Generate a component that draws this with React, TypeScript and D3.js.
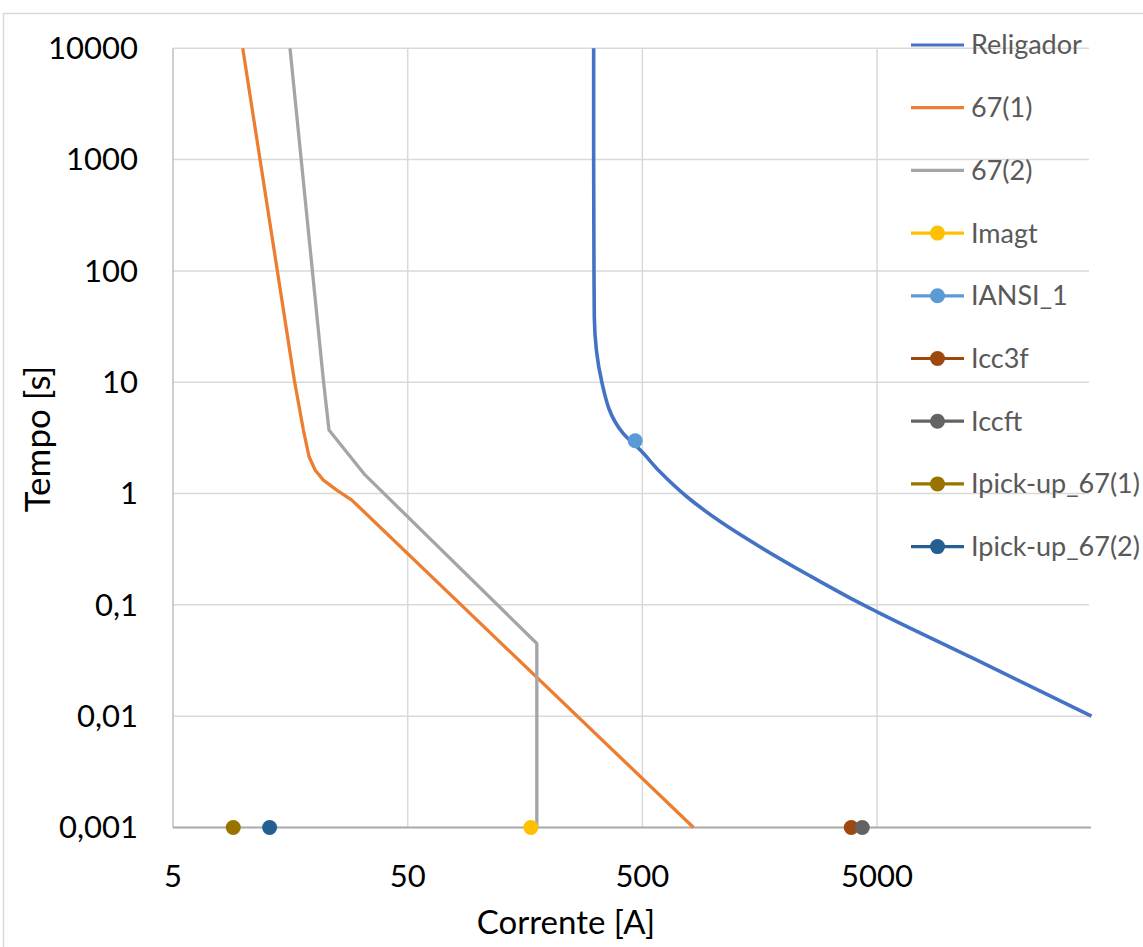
import React from "react";
import * as d3 from "d3";

// Religador curve (corrente [A], tempo [s])
const religadorI = [310, 310, 311, 312, 336, 414, 490, 595.5, 774, 1073, 1589, 2595, 3844, 5000, 13000, 41000];
const religadorT = [10000, 1000, 100, 38.8, 10, 3.47, 2.46, 1.56, 0.936, 0.56, 0.331, 0.1815, 0.1151, 0.0867, 0.0327, 0.01];

// rele 67(1)
const rele1I = [9.91, 16.44, 17.97, 19.0, 20.15, 21.86, 24.93, 28.9, 825.6];
const rele1T = [10000, 10.47, 3.72, 2.14, 1.63, 1.32, 1.075, 0.874, 0.001];

// rele 67(2)
const rele2I = [15.76, 21.86, 23.1, 32.9, 177.5, 177.5];
const rele2T = [10000, 10.47, 3.72, 1.47, 0.045, 0.001];

// single points
const pointNames = ["Imagt", "IANSI_1", "Icc3f", "Iccft", "Ipick-up_67(1)", "Ipick-up_67(2)"];
const pointI = [167.4, 466, 3881, 4325, 9.03, 12.9];
const pointT = [0.001, 2.98, 0.001, 0.001, 0.001, 0.001];
const pointColors = ["#FFC000", "#5B9BD5", "#9E480E", "#636363", "#997300", "#255E91"];

const lineNames = ["Religador", "67(1)", "67(2)"];
const lineColors = ["#4472C4", "#ED7D31", "#A5A5A5"];

const xTicks = [5, 50, 500, 5000];
const yTicks = [10000, 1000, 100, 10, 1, 0.1, 0.01, 0.001];
const yTickLabels = ["10000", "1000", "100", "10", "1", "0,1", "0,01", "0,001"];

const W = 1143;
const H = 947;
const plot = { left: 173, right: 1089, top: 48.3, bottom: 827.5 };
const FONT = "Lato, 'Open Sans', sans-serif";

export default function App() {
  const x = d3.scaleLog().domain([5, 40000]).range([plot.left, plot.right]);
  const y = d3.scaleLog().domain([0.001, 10000]).range([plot.bottom, plot.top]);

  const smooth = d3
    .line<[number, number]>()
    .x((d) => x(d[0]))
    .y((d) => y(d[1]))
    .curve(d3.curveMonotoneY);
  const straight = d3
    .line<[number, number]>()
    .x((d) => x(d[0]))
    .y((d) => y(d[1]));

  const zip = (a: number[], b: number[]) => a.map((v, i) => [v, b[i]] as [number, number]);

  const legend = [
    ...lineNames.map((n, i) => ({ name: n, color: lineColors[i], marker: false })),
    ...pointNames.map((n, i) => ({ name: n, color: pointColors[i], marker: true })),
  ];

  return (
    <svg
      width={W}
      height={H}
      style={{ position: "absolute", left: 0, top: 0, background: "#fff" }}
      fontFamily={FONT}
    >
      <defs>
        <clipPath id="plotclip">
          <rect x={plot.left - 10} y={plot.top - 2} width={plot.right - plot.left + 14} height={plot.bottom - plot.top + 12} />
        </clipPath>
      </defs>
      <rect x={3.5} y={13.5} width={W + 20} height={H + 20} fill="#fff" stroke="#D9D9D9" strokeWidth={1.5} />

      {/* gridlines */}
      {yTicks.map((t) => (
        <line key={"gy" + t} x1={plot.left} x2={plot.right} y1={y(t)} y2={y(t)} stroke="#D9D9D9" strokeWidth={1.5} />
      ))}
      {xTicks.slice(1).map((t) => (
        <line key={"gx" + t} x1={x(t)} x2={x(t)} y1={plot.top} y2={plot.bottom} stroke="#D9D9D9" strokeWidth={1.5} />
      ))}

      {/* axis lines */}
      <line x1={plot.left} x2={plot.left} y1={plot.top} y2={plot.bottom} stroke="#BFBFBF" strokeWidth={1.5} />
      <line x1={plot.left} x2={plot.right + 2} y1={plot.bottom} y2={plot.bottom} stroke="#ABABAB" strokeWidth={1.8} />

      {/* tick labels */}
      {yTicks.map((t, i) => (
        <text key={"ty" + t} x={138} y={y(t)} dy="0.35em" textAnchor="end" fontSize={31} fill="#000">
          {yTickLabels[i]}
        </text>
      ))}
      {xTicks.map((t) => (
        <text key={"tx" + t} x={x(t)} y={876} dy="0.35em" textAnchor="middle" fontSize={31} fill="#000">
          {String(t)}
        </text>
      ))}

      {/* axis titles */}
      <text x={566} y={934} textAnchor="middle" fontSize={33} fill="#000">
        Corrente [A]
      </text>
      <text transform="translate(50,439) rotate(-90)" textAnchor="middle" fontSize={35} fill="#000">
        Tempo [s]
      </text>

      {/* curves */}
      <g clipPath="url(#plotclip)" fill="none" strokeWidth={3.3} strokeLinejoin="round">
        <path d={smooth(zip(religadorI, religadorT)) || ""} stroke={lineColors[0]} strokeWidth={3.6} />
        <path d={straight(zip(rele1I, rele1T)) || ""} stroke={lineColors[1]} />
        <path d={straight(zip(rele2I, rele2T)) || ""} stroke={lineColors[2]} />
      </g>

      {/* points */}
      {pointI.map((v, i) => (
        <circle key={pointNames[i]} cx={x(v)} cy={y(pointT[i])} r={7.5} fill={pointColors[i]} />
      ))}

      {/* legend */}
      {legend.map((e, i) => {
        const ly = 45 + i * 62.7;
        return (
          <g key={e.name}>
            <line x1={911} x2={964} y1={ly} y2={ly} stroke={e.color} strokeWidth={3.2} />
            {e.marker && <circle cx={937.5} cy={ly} r={7.5} fill={e.color} />}
            <text x={971} y={ly} dy="0.35em" fontSize={27} fill="#595959">
              {e.name}
            </text>
          </g>
        );
      })}
    </svg>
  );
}
